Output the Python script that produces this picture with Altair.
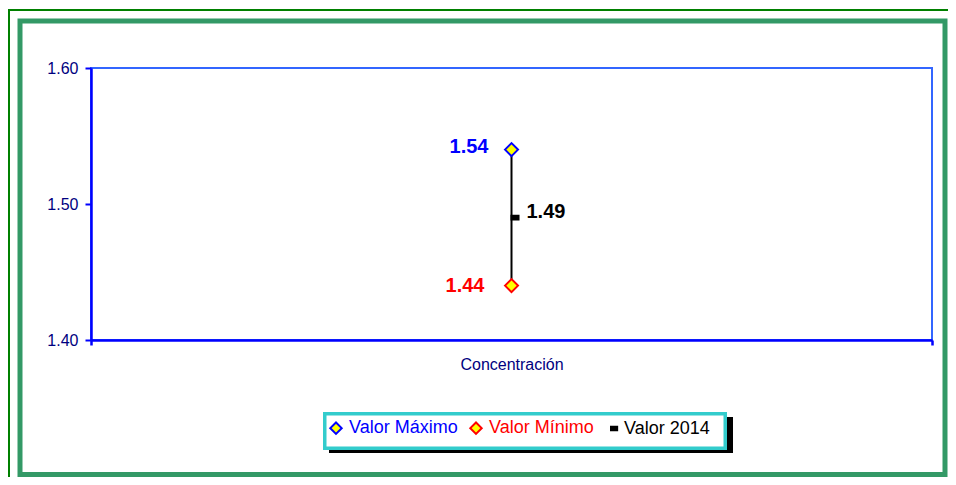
import altair as alt
import pandas as pd

# ---- data ----
category = ["Concentración"]
series = ["Valor Máximo", "Valor Mínimo", "Valor 2014"]
values = [1.54, 1.44, 1.49]
y_ticks = [1.40, 1.50, 1.60]

# ---- styles ----
text_colors = ["#0000ff", "#ff0000", "#000000"]
fill_colors = ["#ffff00", "#ffff00", "#000000"]
stroke_colors = ["#0000ff", "#ff0000", "#000000"]
DASH = "M0,-0.3H1.08V0.3H0Z"
shapes = ["diamond", "diamond", DASH]
FONT = "Liberation Sans"

df = pd.DataFrame({
    "cat": category * len(series),
    "serie": series,
    "valor": values,
    "label": [f"{v:.2f}" for v in values],
})
rng = pd.DataFrame({"cat": category, "lo": [values[1]], "hi": [values[0]]})
deco = pd.DataFrame({"k": [0]})

x_enc = alt.X(
    "cat:N", title=None,
    scale=alt.Scale(type="band", paddingInner=0, paddingOuter=0),
    axis=alt.Axis(tickBand="extent", labelAngle=0, tickSize=5, labelPadding=11,
                  labelFontSize=16, labelFont=FONT, labelColor="#000080",
                  domainColor="#0000ff", domainWidth=2.5, tickColor="#0000ff", tickWidth=2.5),
)
y_scale = alt.Scale(domain=[1.4, 1.6], nice=False, zero=False)
y_axis = alt.Axis(values=y_ticks, format=".2f", grid=False, tickSize=6, labelPadding=7,
                  labelFontSize=16, labelFont=FONT, labelColor="#000080",
                  domainColor="#0000ff", domainWidth=2.5, tickColor="#0000ff", tickWidth=2)

legend = alt.Legend(
    title=None, orient="none", legendX=236, legendY=351, direction="horizontal",
    padding=0, columnPadding=8, labelFontSize=18, labelFont=FONT, labelOffset=4,
    symbolSize=130, symbolStrokeWidth=2, labelLimit=0,
    labelColor={"expr": "datum.label == 'Valor Máximo' ? '#0000ff' : datum.label == 'Valor Mínimo' ? '#ff0000' : '#000000'"},
)


def frame(x, y, x2, y2, color, width):
    return alt.Chart(deco).mark_rect(filled=False, stroke=color, strokeWidth=width).encode(
        x=alt.value(x), x2=alt.value(x2), y=alt.value(y), y2=alt.value(y2))


def block(x, y, x2, y2, color):
    return alt.Chart(deco).mark_rect(color=color).encode(
        x=alt.value(x), x2=alt.value(x2), y=alt.value(y), y2=alt.value(y2))


outer_thin = frame(-82, -58, 875, 430, "#008000", 2)
thick = frame(-71, -47, 854, 406.5, "#339966", 5)
legend_shadow = block(238, 349, 642, 385, "#000000")
legend_box = alt.Chart(deco).mark_rect(fill="white", stroke="#33cccc", strokeWidth=3.5).encode(
    x=alt.value(233.75), x2=alt.value(634.25), y=alt.value(345.75), y2=alt.value(380.25))

y_enc = alt.Y("valor:Q", scale=y_scale, axis=y_axis, title=None)

rule = alt.Chart(rng).mark_rule(color="black", strokeWidth=2).encode(
    x=x_enc,
    y=alt.Y("lo:Q", scale=y_scale, axis=y_axis, title=None),
    y2="hi:Q",
)

points = alt.Chart(df).mark_point(filled=True, size=169, strokeWidth=2, opacity=1).encode(
    x=x_enc,
    y=y_enc,
    shape=alt.Shape("serie:N", scale=alt.Scale(domain=series, range=shapes), legend=legend),
    fill=alt.Fill("serie:N", scale=alt.Scale(domain=series, range=fill_colors), legend=legend),
    stroke=alt.Stroke("serie:N", scale=alt.Scale(domain=series, range=stroke_colors), legend=legend),
)

text_color = alt.Color("serie:N", scale=alt.Scale(domain=series, range=text_colors), legend=None)


def value_label(name, align, dx, dy):
    return alt.Chart(df).transform_filter(
        alt.FieldEqualPredicate(field="serie", equal=name)
    ).mark_text(align=align, baseline="middle", dx=dx, dy=dy, fontSize=20,
                fontWeight="bold", font=FONT).encode(
        x=x_enc, y=y_enc, text="label:N", color=text_color)


lab_max = value_label(series[0], "right", -23, -3)
lab_min = value_label(series[1], "right", -27, 0)
lab_now = value_label(series[2], "left", 15, -6)

chart = alt.layer(
    outer_thin, thick, legend_shadow, legend_box,
    rule, points, lab_max, lab_min, lab_now,
).properties(
    width=841, height=272,
    autosize=alt.AutoSizeParams(type="none"),
    padding={"left": 83, "top": 60, "right": 16, "bottom": 137},
    background="white",
).configure(font=FONT).configure_view(
    stroke="#3366ff", strokeWidth=2
)

chart.save("out.html", embed_options={"renderer": "svg", "actions": False})
